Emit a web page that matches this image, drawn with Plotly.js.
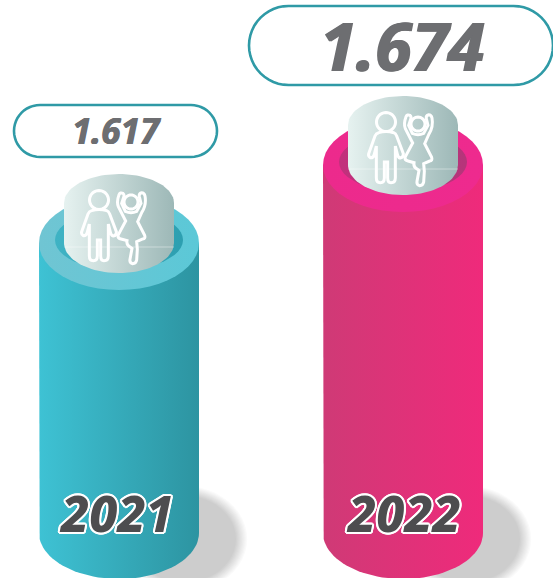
<!DOCTYPE html>
<html>
<head>
<meta charset="utf-8">
<script src="https://cdn.plot.ly/plotly-3.0.1.min.js"></script>
<style>html,body{margin:0;padding:0;background:#fff;overflow:hidden}#c{width:553px;height:578px}</style>
</head>
<body>
<div id="c"></div>
<script>
// Data
var years = ['2021', '2022'];
var values = [1617, 1674];
var valueLabels = ['1.617', '1.674'];
var baseValue = 1405;

// Styles
var bodyColors = [['#3ec2d4', '#2d94a1'], ['#cf3a76', '#ef2a7b']];
var ringColors = [['#70c5d3', '#5bc8d7'], ['#ec2a8c', '#ee2a8e']];
var holeColors = [['#3fb3c4', '#2d9fb0'], ['#c2307c', '#b5357a']];
var capColors = ['#e6f2f0', '#9db8b7'];
var pillColors = '#2f9aa6';

var W = 553, H = 578;
var xPerPx = 1 / 284, yPerPx = 1 / 1.368;
var xRange = [-119 * xPerPx, -119 * xPerPx + W * xPerPx];
var yTop = 1617 + 243 * yPerPx;
var yRange = [yTop - H * yPerPx, yTop];

function pxX(i) { return (i - xRange[0]) / xPerPx; }
function pxY(v) { return (yRange[1] - v) / yPerPx; }
function pX(px) { return px / W; }
function pY(py) { return 1 - py / H; }

// elliptical arc from angle a0 to a1 (0 = right, 90 = front), in axis units
function arc(i, v, rx, ry, a0, a1, xs, ys) {
  for (var k = 0; k <= 48; k++) {
    var t = (a0 + (a1 - a0) * k / 48) * Math.PI / 180;
    xs.push(i + rx * Math.cos(t) * xPerPx);
    ys.push(v - ry * Math.sin(t) * yPerPx);
  }
}
function solid(xs, ys, colors) {
  var t = { x: xs, y: ys, mode: 'lines', fill: 'toself', line: { width: 0 }, hoverinfo: 'skip', showlegend: false };
  if (Array.isArray(colors)) t.fillgradient = { type: 'horizontal', colorscale: [[0, colors[0]], [1, colors[1]]] };
  else t.fillcolor = colors;
  return t;
}
function ellipse(i, v, rx, ry, colors) {
  var xs = [], ys = [];
  arc(i, v, rx, ry, 0, 360, xs, ys);
  return solid(xs, ys, colors);
}

var traces = [];
years.forEach(function (yr, i) {
  // soft ground shadow
  for (var s = 0; s < 10; s++) {
    var f = 1.02 - s * 0.02;
    var xs = [], ys = [];
    arc(i + 65 * xPerPx, baseValue - 6 * yPerPx, 62 * f, 52 * f, 0, 360, xs, ys);
    traces.push(solid(xs, ys, 'rgba(0,0,0,0.019)'));
  }
});
years.forEach(function (yr, i) {
  var v = values[i];
  var rx = 80, ry = 46;
  // cylinder body
  var xs = [], ys = [];
  xs.push(i - rx * xPerPx); ys.push(v);
  arc(i, baseValue, rx, ry, 180, 0, xs, ys);
  xs.push(i + rx * xPerPx); ys.push(v);
  traces.push(solid(xs, ys, bodyColors[i]));
  // top ring and hole
  traces.push(ellipse(i, v, rx, ry + 1, ringColors[i]));
  traces.push(ellipse(i, v + 3 * yPerPx, 64, 30, holeColors[i]));
  // capsule
  var cx = [], cy = [];
  arc(i, v + 40 * yPerPx, 55, 29, 180, 360, cx, cy);
  arc(i, v, 55, 30, 0, 180, cx, cy);
  cx.push(cx[0]); cy.push(cy[0]);
  traces.push(solid(cx, cy, capColors));
});

// Outline icon, in 3x pixels of the 2021 capsule crop
var boy = 'M275,362 Q297,355 320,362 Q326,364 329,372 L349,425 Q350,436 340,438 Q335,438 332,430 L325,402 L325,497 Q325,512 312,512 Q302,512 302,497 L302,450 L292,450 L292,497 Q292,512 280,512 Q268,512 268,497 L268,402 L261,430 Q258,438 250,437 Q243,433 245,425 L264,372 Q267,364 275,362 Z';
var girl = 'M377,393 L355,350 Q349,335 357,314 Q361,306 369,310 Q374,314 371,322 L365,340 L376,364 Q393,372 410,364 L423,340 L418,320 Q416,310 425,308 Q433,308 435,318 Q440,345 425,368 L413,395 L434,436 Q437,446 428,447 L410,455 L412,478 L410,510 Q408,521 398,521 Q388,519 390,508 L396,475 L386,468 Q379,462 381,452 L363,447 Q353,445 354,436 L377,393 Z';

function iconPath(d, dx, dy) {
  return d.replace(/-?\d+(\.\d+)?,-?\d+(\.\d+)?/g, function (m) {
    var p = m.split(',');
    return pX(+p[0] / 3 + dx).toFixed(5) + ',' + pY((+p[1] + 270) / 3 + dy).toFixed(5);
  });
}
function circlePath(cx, cy, r) {
  var pts = [];
  for (var k = 0; k <= 36; k++) {
    var t = k * Math.PI / 18;
    pts.push((k ? 'L' : 'M') + pX(cx + r * Math.cos(t)).toFixed(5) + ',' + pY(cy + r * Math.sin(t)).toFixed(5));
  }
  return pts.join(' ') + ' Z';
}
function pillPath(x0, y0, x1, y1) {
  var r = (y1 - y0) / 2;
  var pts = [];
  var k, t;
  for (k = 0; k <= 24; k++) { t = (90 + k * 7.5) * Math.PI / 180; pts.push([x0 + r + r * Math.cos(t), y0 + r + r * Math.sin(t)]); }
  for (k = 0; k <= 24; k++) { t = (270 + k * 7.5) * Math.PI / 180; pts.push([x1 - r + r * Math.cos(t), y0 + r + r * Math.sin(t)]); }
  return pts.map(function (p, j) { return (j ? 'L' : 'M') + pX(p[0]).toFixed(5) + ',' + pY(p[1]).toFixed(5); }).join(' ') + ' Z';
}

var white = '#ffffff';
var iconW = 3;
var shapes = [];
var pills = [[14, 105, 217, 157], [249, 6, 553, 85]];
years.forEach(function (yr, i) {
  var dx = pxX(i) - pxX(0), dy = pxY(values[i]) - pxY(values[0]);
  var iconDx = i ? dx + 3 : dx;
  // faint seam across the capsule
  var seamY = pxY(values[i]) + 4;
  shapes.push({ type: 'line', xref: 'paper', yref: 'paper', x0: pX(pxX(i) - 55), x1: pX(pxX(i) + 55), y0: pY(seamY), y1: pY(seamY), line: { color: 'rgba(255,255,255,0.4)', width: 1 }, layer: 'above' });
  [boy, girl].forEach(function (d) {
    shapes.push({ type: 'path', xref: 'paper', yref: 'paper', path: iconPath(d, iconDx, dy), line: { color: white, width: iconW }, fillcolor: 'rgba(0,0,0,0)', layer: 'above' });
  });
  shapes.push({ type: 'path', xref: 'paper', yref: 'paper', path: circlePath(99 + iconDx, 200 + dy, 9.5), line: { color: white, width: iconW }, fillcolor: 'rgba(0,0,0,0)', layer: 'above' });
  shapes.push({ type: 'path', xref: 'paper', yref: 'paper', path: circlePath(131 + iconDx, 202 + dy, 7), line: { color: white, width: iconW }, fillcolor: 'rgba(0,0,0,0)', layer: 'above' });
  var p = pills[i];
  shapes.push({ type: 'path', xref: 'paper', yref: 'paper', path: pillPath(p[0], p[1], p[2], p[3]), line: { color: pillColors, width: 2.6 }, fillcolor: white, layer: 'above' });
});

var outline = [];
for (var a = 0; a < 16; a++) {
  outline.push((2 * Math.cos(a * Math.PI / 8)).toFixed(2) + 'px ' + (2 * Math.sin(a * Math.PI / 8)).toFixed(2) + 'px 0 #fff');
}
var annotations = [];
var valueSizes = [35, 66];
var valueY = [130, 45];
var fatten = ['0.5px 0 0 #6d6e71,-0.5px 0 0 #6d6e71', '1px 0 0 #6d6e71,-1px 0 0 #6d6e71'];
years.forEach(function (yr, i) {
  annotations.push({
    text: valueLabels[i], showarrow: false, xref: 'paper', yref: 'paper',
    x: pX(i ? 402 : 116), y: pY(valueY[i]), xanchor: 'center', yanchor: 'middle',
    font: { family: 'Noto Sans, sans-serif', size: valueSizes[i], color: '#6d6e71', weight: 700, style: 'italic', shadow: fatten[i] }
  });
  annotations.push({
    text: yr, showarrow: false, xref: 'paper', yref: 'paper',
    x: pX(i ? 403 : 116), y: pY(513), xanchor: 'center', yanchor: 'middle',
    font: { family: 'Noto Sans, sans-serif', size: 50, color: '#4d4d4f', weight: 800, style: 'italic', shadow: outline.join(',') }
  });
});

var layout = {
  width: W, height: H,
  margin: { l: 0, r: 0, t: 0, b: 0 },
  paper_bgcolor: '#ffffff', plot_bgcolor: '#ffffff',
  showlegend: false,
  xaxis: { range: xRange, visible: false, fixedrange: true },
  yaxis: { range: yRange, visible: false, fixedrange: true },
  shapes: shapes,
  annotations: annotations
};
Plotly.newPlot('c', traces, layout, { displayModeBar: false, staticPlot: true });
</script>
</body>
</html>
